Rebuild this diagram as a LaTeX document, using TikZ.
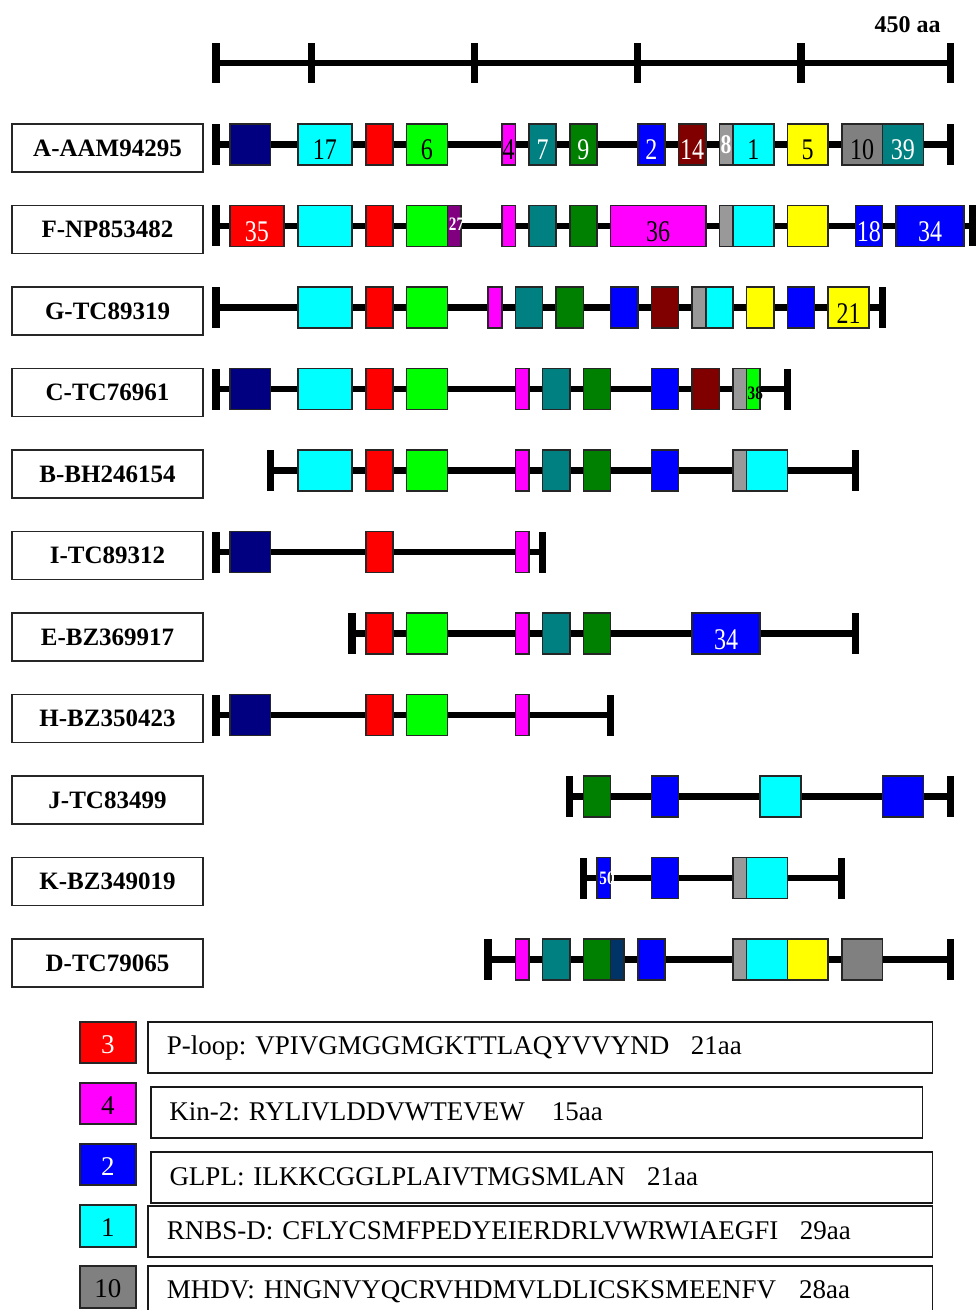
\documentclass[tikz,border=0pt]{standalone}
\usepackage{fontspec}
\setmainfont{Liberation Serif}
\newfontfamily\numfont[FakeStretch=0.8]{Liberation Serif}
\usetikzlibrary{positioning}
\definecolor{cNavy}{HTML}{000080}
\definecolor{cCyan}{HTML}{00FFFF}
\definecolor{cRed}{HTML}{FF0000}
\definecolor{cLime}{HTML}{00FF00}
\definecolor{cMag}{HTML}{FF00FF}
\definecolor{cTeal}{HTML}{008080}
\definecolor{cGreen}{HTML}{008000}
\definecolor{cBlue}{HTML}{0000FF}
\definecolor{cMaroon}{HTML}{800000}
\definecolor{cGrayL}{HTML}{999999}
\definecolor{cGray}{HTML}{808080}
\definecolor{cYellow}{HTML}{FFFF00}
\definecolor{cPurple}{HTML}{800080}
\definecolor{cDeep}{HTML}{003366}
\newcommand\tagnum[3]{\raisebox{#1}{\fontsize{#2}{#2}\selectfont\bfseries #3}}
\frenchspacing

\begin{document}
\begin{tikzpicture}[
  x=0.5pt,y=-0.5pt,
  lab/.style={draw=black!85,line width=0.7pt,minimum width=95.5pt,minimum height=24pt,inner sep=0pt,font=\fontsize{12.5}{12.5}\selectfont\bfseries},
  endbar/.style={fill=black,minimum width=3.7pt,minimum height=20.5pt,inner sep=0pt,outer sep=0pt},
  tick/.style={fill=black,minimum width=3.7pt,minimum height=20pt,inner sep=0pt,outer sep=0pt},
  bone/.style={line width=3.4pt},
  scl/.style={line width=3.2pt},
  dom/.style={draw=black!85,line width=0.8pt,anchor=west,minimum height=20.5pt,inner sep=0pt,outer sep=0pt,
    text height=15.5pt,text depth=0pt,font=\numfont\fontsize{15}{15}\selectfont},
  key/.style={draw=black!85,line width=1pt,minimum width=27.8pt,minimum height=20.8pt,inner sep=0pt,
    text height=11pt,text depth=0pt,font=\fontsize{13.5}{13.5}\selectfont},
  keytxt/.style={draw=black!90,line width=0.9pt,anchor=west,minimum height=25.6pt,inner xsep=9.3pt,inner ysep=0pt,align=left,font=\fontsize{13.5}{13.5}\selectfont}]
\useasboundingbox (0,0) rectangle (975,1310);

% ---------- length scale ----------
\foreach \k [count=\i from 0] in {-1,6,18,30,42,53}
  \node[tick] (s\i) at ({229.7+13.6*\k},63) {};
\draw[scl] (s0) -- (s5);
\node[anchor=base,font=\fontsize{12}{12}\selectfont\bfseries] (len) at (907.5,33) {450 aa};

% ---------- A-AAM94295 ----------
\node[lab] (labA) at (107.5,148) {A-AAM94295};
\node[endbar] (A0) at ({229.7-13.6},144.5) {};
\node[endbar] (A1) at ({229.7+13.6*53},144.5) {};
\draw[bone] (A0) -- (A1);
\foreach \a/\b/\c/\f/\t [count=\i] in {0/3/cNavy/white/{},5/9/cCyan/black/17,10/12/cRed/white/{},13/16/cLime/black/6,
    20/21/cMag/black/4,22/24/cTeal/white/7,25/27/cGreen/white/9,30/32/cBlue/white/2,33/35/cMaroon/white/14,
    36/37/cGrayL/white/{\tagnum{3.4pt}{13.5}{8}},37/40/cCyan/black/1,41/44/cYellow/black/5,45/48/cGray/black/10,48/51/cTeal/white/39}
  \node[dom,fill=\c,text=\f,minimum width={(\b-\a)*6.8pt}] (A-\i) at ({229.7+13.6*\a},144.5) {\makebox[0pt]{\t}};

% ---------- F-NP853482 ----------
\node[lab] (labF) at (107.5,229.5) {F-NP853482};
\node[endbar] (F0) at ({229.7-13.6},226) {};
\node[endbar] (F1) at ({229.7+13.6*54.6},226) {};
\draw[bone] (F0) -- (F1);
\foreach \a/\b/\c/\f/\t [count=\i] in {0/4/cRed/white/35,5/9/cCyan/black/{},10/12/cRed/white/{},13/16/cLime/black/{},
    16/17/cPurple/white/{\hspace{2.4pt}\tagnum{5.6pt}{9.5}{27}},20/21/cMag/black/{},22/24/cTeal/white/{},25/27/cGreen/white/{},
    28/35/cMag/black/36,36/37/cGrayL/white/{},37/40/cCyan/black/{},41/44/cYellow/black/{},46/48/cBlue/white/18,49/54/cBlue/white/34}
  \node[dom,fill=\c,text=\f,minimum width={(\b-\a)*6.8pt}] (F-\i) at ({229.7+13.6*\a},226) {\makebox[0pt]{\t}};

% ---------- G-TC89319 ----------
\node[lab] (labG) at (107.5,311) {G-TC89319};
\node[endbar] (G0) at ({229.7-13.6},307.5) {};
\node[endbar] (G1) at ({229.7+13.6*48},307.5) {};
\draw[bone] (G0) -- (G1);
\foreach \a/\b/\c/\f/\t [count=\i] in {5/9/cCyan/black/{},10/12/cRed/white/{},13/16/cLime/black/{},19/20/cMag/black/{},
    21/23/cTeal/white/{},24/26/cGreen/white/{},28/30/cBlue/white/{},31/33/cMaroon/white/{},34/35/cGrayL/white/{},
    35/37/cCyan/black/{},38/40/cYellow/black/{},41/43/cBlue/white/{},44/47/cYellow/black/21}
  \node[dom,fill=\c,text=\f,minimum width={(\b-\a)*6.8pt}] (G-\i) at ({229.7+13.6*\a},307.5) {\makebox[0pt]{\t}};

% ---------- C-TC76961 ----------
\node[lab] (labC) at (107.5,392.5) {C-TC76961};
\node[endbar] (C0) at ({229.7-13.6},389) {};
\node[endbar] (C1) at ({229.7+13.6*41},389) {};
\draw[bone] (C0) -- (C1);
\foreach \a/\b/\c/\f/\t [count=\i] in {0/3/cNavy/white/{},5/9/cCyan/black/{},10/12/cRed/white/{},13/16/cLime/black/{},
    21/22/cMag/black/{},23/25/cTeal/white/{},26/28/cGreen/white/{},31/33/cBlue/white/{},34/36/cMaroon/white/{},
    37/38/cGrayL/white/{},38/39/cLime/black/{\hspace{2pt}\tagnum{2.6pt}{9.5}{38}}}
  \node[dom,fill=\c,text=\f,minimum width={(\b-\a)*6.8pt}] (C-\i) at ({229.7+13.6*\a},389) {\makebox[0pt]{\t}};

% ---------- B-BH246154 ----------
\node[lab] (labB) at (107.5,474) {B-BH246154};
\node[endbar] (B0) at ({229.7+13.6*3},470.5) {};
\node[endbar] (B1) at ({229.7+13.6*46},470.5) {};
\draw[bone] (B0) -- (B1);
\foreach \a/\b/\c/\f/\t [count=\i] in {5/9/cCyan/black/{},10/12/cRed/white/{},13/16/cLime/black/{},21/22/cMag/black/{},
    23/25/cTeal/white/{},26/28/cGreen/white/{},31/33/cBlue/white/{},37/38/cGrayL/white/{},38/41/cCyan/black/{}}
  \node[dom,fill=\c,text=\f,minimum width={(\b-\a)*6.8pt}] (B-\i) at ({229.7+13.6*\a},470.5) {\makebox[0pt]{\t}};

% ---------- I-TC89312 ----------
\node[lab] (labI) at (107.5,555.5) {I-TC89312};
\node[endbar] (I0) at ({229.7-13.6},552) {};
\node[endbar] (I1) at ({229.7+13.6*23},552) {};
\draw[bone] (I0) -- (I1);
\foreach \a/\b/\c/\f/\t [count=\i] in {0/3/cNavy/white/{},10/12/cRed/white/{},21/22/cMag/black/{}}
  \node[dom,fill=\c,text=\f,minimum width={(\b-\a)*6.8pt}] (I-\i) at ({229.7+13.6*\a},552) {\makebox[0pt]{\t}};

% ---------- E-BZ369917 ----------
\node[lab] (labE) at (107.5,637) {E-BZ369917};
\node[endbar] (E0) at ({229.7+13.6*9},633.5) {};
\node[endbar] (E1) at ({229.7+13.6*46},633.5) {};
\draw[bone] (E0) -- (E1);
\foreach \a/\b/\c/\f/\t [count=\i] in {10/12/cRed/white/{},13/16/cLime/black/{},21/22/cMag/black/{},23/25/cTeal/white/{},
    26/28/cGreen/white/{},34/39/cBlue/white/34}
  \node[dom,fill=\c,text=\f,minimum width={(\b-\a)*6.8pt}] (E-\i) at ({229.7+13.6*\a},633.5) {\makebox[0pt]{\t}};

% ---------- H-BZ350423 ----------
\node[lab] (labH) at (107.5,718.5) {H-BZ350423};
\node[endbar] (H0) at ({229.7-13.6},715) {};
\node[endbar] (H1) at ({229.7+13.6*28},715) {};
\draw[bone] (H0) -- (H1);
\foreach \a/\b/\c/\f/\t [count=\i] in {0/3/cNavy/white/{},10/12/cRed/white/{},13/16/cLime/black/{},21/22/cMag/black/{}}
  \node[dom,fill=\c,text=\f,minimum width={(\b-\a)*6.8pt}] (H-\i) at ({229.7+13.6*\a},715) {\makebox[0pt]{\t}};

% ---------- J-TC83499 ----------
\node[lab] (labJ) at (107.5,800) {J-TC83499};
\node[endbar] (J0) at ({229.7+13.6*25},796.5) {};
\node[endbar] (J1) at ({229.7+13.6*53},796.5) {};
\draw[bone] (J0) -- (J1);
\foreach \a/\b/\c/\f/\t [count=\i] in {26/28/cGreen/white/{},31/33/cBlue/white/{},39/42/cCyan/black/{},48/51/cBlue/white/{}}
  \node[dom,fill=\c,text=\f,minimum width={(\b-\a)*6.8pt}] (J-\i) at ({229.7+13.6*\a},796.5) {\makebox[0pt]{\t}};

% ---------- K-BZ349019 ----------
\node[lab] (labK) at (107.5,881.5) {K-BZ349019};
\node[endbar] (K0) at ({229.7+13.6*26},878) {};
\node[endbar] (K1) at ({229.7+13.6*45},878) {};
\draw[bone] (K0) -- (K1);
\foreach \a/\b/\c/\f/\t [count=\i] in {27/28/cBlue/white/{\hspace{3.3pt}\tagnum{4.3pt}{9.5}{50}},31/33/cBlue/white/{},
    37/38/cGrayL/white/{},38/41/cCyan/black/{}}
  \node[dom,fill=\c,text=\f,minimum width={(\b-\a)*6.8pt}] (K-\i) at ({229.7+13.6*\a},878) {\makebox[0pt]{\t}};

% ---------- D-TC79065 ----------
\node[lab] (labD) at (107.5,963) {D-TC79065};
\node[endbar] (D0) at ({229.7+13.6*19},959.5) {};
\node[endbar] (D1) at ({229.7+13.6*53},959.5) {};
\draw[bone] (D0) -- (D1);
\foreach \a/\b/\c/\f/\t [count=\i] in {21/22/cMag/black/{},23/25/cTeal/white/{},26/28/cGreen/white/{},28/29/cDeep/white/{},
    30/32/cBlue/white/{},37/38/cGrayL/white/{},38/41/cCyan/black/{},41/44/cYellow/black/{},45/48/cGray/black/{}}
  \node[dom,fill=\c,text=\f,minimum width={(\b-\a)*6.8pt}] (D-\i) at ({229.7+13.6*\a},959.5) {\makebox[0pt]{\t}};

% ---------- motif key ----------
\node[key,fill=cRed,text=white] (k3) at (107.8,1042.5) {3};
\node[key,fill=cMag] (k4) at (107.8,1103.3) {4};
\node[key,fill=cBlue,text=white] (k2) at (107.8,1164.5) {2};
\node[key,fill=cCyan] (k1) at (107.8,1225.8) {1};
\node[key,fill=cGray] (k10) at (107.8,1286.8) {10};
\node[keytxt,text width=373.5pt] (t3) at (147.4,1047.5) {P-loop: VPIVGMGGMGKTTLAQYVVYND\hspace{0.8em}21aa};
\node[keytxt,text width=367.2pt] (t4) at (149.9,1112.2) {Kin-2: RYLIVLDDVWTEVEW\hspace{1em}15aa};
\node[keytxt,text width=372.2pt] (t2) at (150,1177.2) {GLPL: ILKKCGGLPLAIVTMGSMLAN\hspace{0.8em}21aa};
\node[keytxt,text width=373.5pt] (t1) at (147.4,1231.2) {RNBS-D: CFLYCSMFPEDYEIERDRLVWRWIAEGFI\hspace{0.8em}29aa};
\node[keytxt,text width=373.5pt] (t10) at (147.4,1291.5) {MHDV: HNGNVYQCRVHDMVLDLICSKSMEENFV\hspace{0.85em}28aa};
\end{tikzpicture}
\end{document}
